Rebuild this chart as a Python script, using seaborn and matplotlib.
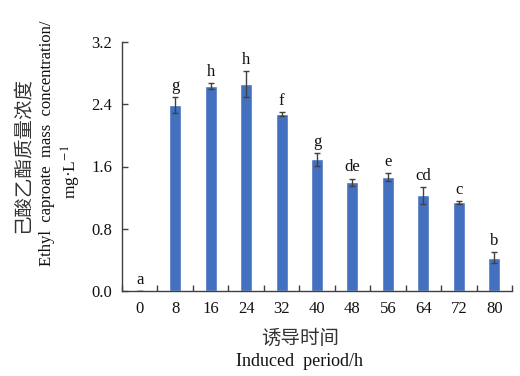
import matplotlib
matplotlib.use("Agg")
import matplotlib.pyplot as plt
import seaborn as sns
import pandas as pd

periods = ["0", "8", "16", "24", "32", "40", "48", "56", "64", "72", "80"]
values = [0.0, 2.39, 2.63, 2.66, 2.275, 1.69, 1.40, 1.47, 1.23, 1.14, 0.43]
errors = [0.0, 0.10, 0.04, 0.17, 0.025, 0.08, 0.045, 0.05, 0.11, 0.02, 0.065]
letters = ["a", "g", "h", "h", "f", "g", "de", "e", "cd", "c", "b"]
yticks = [0.0, 0.8, 1.6, 2.4, 3.2]

sns.set_theme(style="white")
plt.rcParams["font.family"] = ["Liberation Serif", "Noto Sans CJK SC"]
plt.rcParams["mathtext.fontset"] = "stix"

df = pd.DataFrame({"period": periods, "value": values})

fig = plt.figure(figsize=(5.2, 3.76), dpi=100)
ax = fig.add_axes([122/520, 1-291/376, 390/520, 249/376])
sns.barplot(data=df, x="period", y="value", order=periods, color="#4470C0",
            saturation=1, width=0.34, ax=ax, errorbar=None)
xs = list(range(len(periods)))
ax.errorbar(xs, values, yerr=errors, fmt="none", ecolor="#404040",
            elinewidth=1.0, capsize=2.3, capthick=1.0)
for x, v, e, t in zip(xs, values, errors, letters):
    ax.text(x, v + e + 0.04, t, ha="center", va="bottom", fontsize=12,
            family="Liberation Serif", color="#111111")

ax.set_ylim(0, 3.2)
ax.set_xlim(-0.5, len(periods) - 0.5)
ax.set_yticks(yticks)
ax.set_yticklabels([f"{t:.1f}" for t in yticks])
ax.set_xlabel("")
ax.set_ylabel("")
ax.set_xticks([i + 0.5 for i in range(-1, len(periods))], minor=True)
ax.tick_params(axis="x", which="major", length=0, labelsize=12, pad=7, colors="#111111")
ax.tick_params(axis="x", which="minor", direction="in", length=4, width=1, color="#404040", bottom=True)
ax.tick_params(axis="y", which="major", direction="in", length=4, width=1, color="#404040",
               labelsize=12, pad=7, left=True, labelcolor="#111111")
for s in ["top", "right"]:
    ax.spines[s].set_visible(False)
for s in ["left", "bottom"]:
    ax.spines[s].set_color("#404040")
    ax.spines[s].set_linewidth(1.0)

fig.text(300/520, 1-338/376, "诱导时间", ha="center", va="center", fontsize=14,
         family=["Noto Sans CJK SC"], fontweight="light", color="#333333")
fig.text(300/520, 1-362/376, "Induced  period/h", ha="center", va="center", fontsize=13,
         family=["Liberation Serif"], color="#111111")
fig.text(22/520, 1-155/376, "己酸乙酯质量浓度", ha="center", va="center", rotation=90,
         fontsize=14, family=["Noto Sans CJK SC"], fontweight="light", color="#333333")
fig.text(47/520, 1-143/376, "Ethyl  caproate  mass  concentration/", ha="center", va="center",
         rotation=90, fontsize=12, family=["Liberation Serif"], color="#111111")
fig.text(71/520, 1-172/376, "mg·L$^{-1}$", ha="center", va="center", rotation=90,
         fontsize=12.5, family=["Liberation Serif"], color="#111111")

fig.savefig("out.png", dpi=100)
